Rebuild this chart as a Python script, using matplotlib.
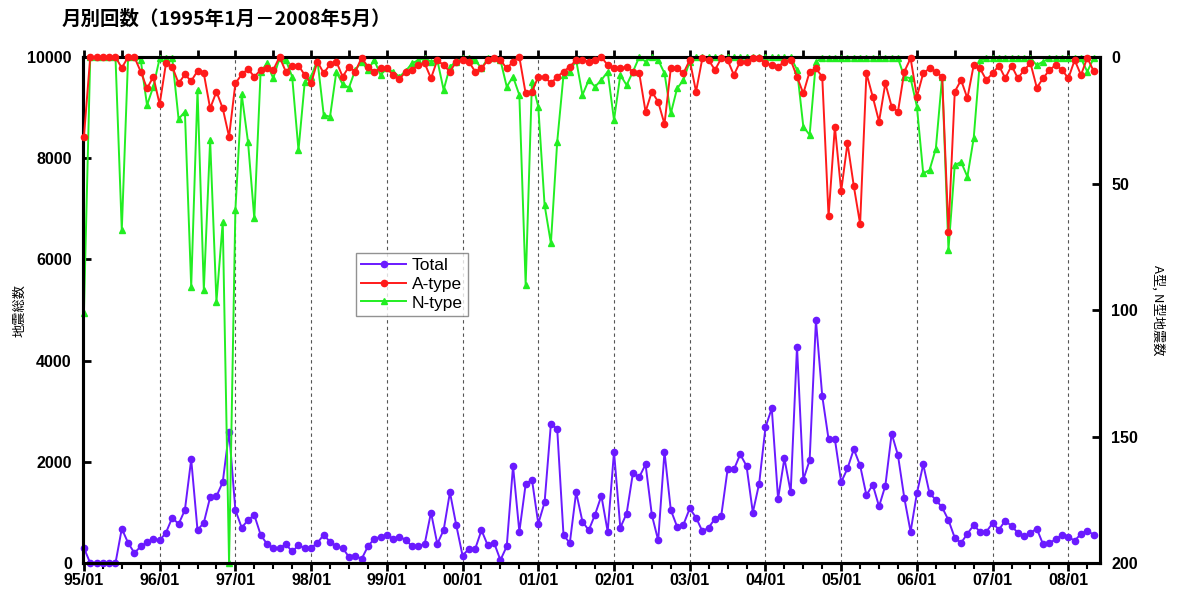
import numpy as np
import matplotlib
matplotlib.use('Agg')
import matplotlib.pyplot as plt
from matplotlib.ticker import MultipleLocator

plt.rcParams['font.family'] = ['Liberation Sans', 'Noto Sans CJK JP', 'DejaVu Sans']

# monthly counts, 1995/01 .. 2008/05 (161 months)
total = [300, 0, 0, 0, 0, 0, 680, 400, 200, 330, 410, 480,
         450, 600, 900, 770, 1050, 2050, 650, 800, 1300, 1320, 1600, 2600,
         1050, 700, 850, 950, 560, 380, 300, 300, 370, 230, 350, 300,
         300, 400, 560, 420, 330, 300, 120, 150, 80, 330, 480, 520,
         560, 480, 520, 460, 330, 340, 380, 1000, 380, 650, 1400, 750,
         150, 280, 280, 650, 350, 400, 60, 330, 1920, 620, 1560, 1650,
         780, 1200, 2750, 2650, 550, 400, 1400, 820, 650, 960, 1330, 620,
         2200, 700, 980, 1780, 1700, 1950, 950, 450, 2200, 1050, 720, 760,
         1080, 900, 630, 700, 880, 940, 1850, 1850, 2150, 1920, 1000, 1570,
         2680, 3060, 1270, 2070, 1400, 4280, 1650, 2030, 4800, 3300, 2450, 2450,
         1600, 1870, 2250, 1930, 1340, 1550, 1120, 1530, 2560, 2130, 1290, 620,
         1380, 1950, 1380, 1250, 1100, 850, 500, 400, 580, 750, 620, 620,
         790, 660, 840, 730, 600, 530, 600, 680, 370, 400, 470, 560,
         520, 440, 580, 640, 560]

a_type = [31.5, 0, 0, 0, 0, 0, 4.3, 0, 0, 5.8, 12.4, 7.8,
          18.7, 2.5, 3.8, 10.4, 6.9, 9.5, 5.5, 6.5, 20.3, 13.7, 20.3, 31.5,
          10.4, 6.9, 4.7, 7.8, 5.1, 4.5, 5.1, 0, 5.8, 3.4, 3.4, 7.1,
          10.4, 1.8, 6.4, 2.9, 1.8, 7.8, 3.8, 5.8, 0.3, 3.8, 5.8, 4.5,
          4.5, 7.1, 8.7, 5.8, 5.1, 3.2, 2.5, 8.4, 1.2, 3.2, 5.8, 1.8,
          1.2, 1.8, 5.8, 4.5, 1.2, 0.5, 1.2, 4.5, 1.8, 0, 14.4, 13.7,
          7.8, 7.8, 10.4, 7.8, 5.8, 3.8, 1.2, 1.2, 1.8, 1.2, 0, 3.2,
          4.5, 4.5, 3.8, 5.8, 6.4, 21.6, 13.7, 17.7, 26.5, 4.5, 4.5, 6.4,
          1.2, 13.7, 0.5, 1.2, 5.1, 0.5, 1.2, 7.1, 1.8, 1.8, 0.5, 0.5,
          2.5, 3.2, 3.8, 1.8, 1.2, 7.8, 14.4, 5.8, 4.5, 7.8, 63, 27.5,
          53, 34, 51, 66, 6.4, 15.7, 25.5, 10.4, 19.6, 21.6, 5.8, 0.5,
          15.7, 6.4, 4.5, 5.8, 7.8, 69, 13.7, 9.1, 16.3, 3.2, 4.5, 9.1,
          6.4, 3.4, 8.4, 3.4, 8.4, 5.1, 2.5, 12.1, 8.4, 5.1, 3.2, 5.1,
          8.4, 1.2, 7.1, 0.3, 5.5]

n_type = [101, 0, 0, 0, 0, 0, 68.4, 0, 0, 1.2, 19, 11.7,
          0.5, 0.5, 0.5, 24.5, 21.6, 90.8, 13, 92, 32.8, 96.7, 65.1, 200,
          60.5, 14.7, 33.5, 63.8, 5.8, 2.5, 8.4, 0.5, 1.2, 7.8, 36.8, 9.7,
          7.8, 1.2, 22.9, 23.6, 5.8, 10.8, 12.1, 5.1, 1.8, 5.1, 1.2, 7.1,
          4.5, 5.8, 7.8, 5.5, 2.5, 1.2, 0.5, 1.8, 1.2, 13, 3.8, 1.8,
          0.5, 0.5, 1.2, 4.5, 0.5, 0.5, 1.2, 11.7, 7.8, 15, 90, 9.7,
          19.6, 58.5, 73.6, 33.5, 7.1, 5.8, 1.2, 15, 9.1, 11.7, 9.1, 5.8,
          24.9, 7.1, 11.1, 5.8, 0, 1.8, 0, 1.2, 6.4, 22.3, 12.4, 9.1,
          1.8, 0, 0, 0, 0, 0, 0, 0, 0, 0, 0, 0,
          0, 0, 0, 0, 0, 5, 27.5, 30.8, 1.8, 0.5, 0.5, 0.5,
          0.5, 0.5, 0.5, 0.5, 0.5, 0.5, 0.5, 0.5, 0.5, 0.5, 7.8, 8.4,
          19.6, 46, 44.7, 36.2, 7.8, 76.2, 42.7, 41.5, 47.3, 32.1, 1.2, 0.5,
          0.5, 0.5, 0.5, 0.5, 0.5, 0.5, 0.5, 3.2, 1.8, 0.5, 0.5, 0.5,
          0.5, 0.5, 0.5, 5.8, 0.5]

year_labels = ['95/01', '96/01', '97/01', '98/01', '99/01', '00/01', '01/01',
               '02/01', '03/01', '04/01', '05/01', '06/01', '07/01', '08/01']

months = np.arange(len(total))
cjk = ['Noto Sans CJK JP', 'DejaVu Sans']

fig = plt.figure(figsize=(11.77, 5.94), dpi=100)
ax = fig.add_axes([0.0705, 0.052, 0.864, 0.852])
ax2 = ax.twinx()

for k in range(1, len(year_labels)):
    ax.axvline(12 * k, color='#555555', linestyle=(0, (3, 3)), linewidth=0.8, zorder=0)

l1, = ax.plot(months, total, color='#6A1AFF', marker='o', markersize=4.5,
              linewidth=1.4, label='Total', clip_on=False, zorder=3)
l2, = ax2.plot(months, a_type, color='#FF1A1A', marker='o', markersize=4.5,
               linewidth=1.4, label='A-type', clip_on=False, zorder=3)
l3, = ax2.plot(months, n_type, color='#22EE22', marker='^', markersize=5,
               linewidth=1.4, label='N-type', clip_on=False, zorder=2)

ax.set_xlim(-0.15, 161)
ax.set_ylim(0, 10000)
ax2.set_ylim(200, 0)

ax.set_xticks(np.arange(0, 12 * len(year_labels), 12))
ax.set_xticklabels(year_labels, fontweight='bold', fontsize=11.5)
ax.xaxis.set_minor_locator(MultipleLocator(3))
ax.set_yticks(np.arange(0, 10001, 2000))
ax.set_yticklabels([str(v) for v in range(0, 10001, 2000)], fontweight='bold', fontsize=11.5)
ax2.set_yticks([0, 50, 100, 150, 200])
ax2.set_yticklabels(['0', '50', '100', '150', '200'], fontweight='bold', fontsize=11.5)

ax.tick_params(axis='x', which='major', direction='out', length=6, width=2, pad=1)
ax.tick_params(axis='x', which='minor', direction='out', length=4, width=1.5)
ax.tick_params(axis='y', direction='in', length=6, width=2, pad=8)
ax2.tick_params(axis='y', direction='in', length=6, width=2, pad=8)

top = ax.secondary_xaxis('top')
top.set_xticks(np.arange(0, 161, 6))
top.tick_params(direction='out', length=5, width=2, labeltop=False)

for a in (ax, ax2):
    for s in a.spines.values():
        s.set_linewidth(2.2)

ax.set_ylabel('地震総数', family=cjk, fontsize=9.5, labelpad=1)
ax2.set_ylabel('A型, N型地震数', family=cjk, fontsize=9.5, rotation=270, labelpad=19)

fig.text(0.052, 0.967, '月別回数（1995年1月－2008年5月）', family=cjk,
         fontsize=14, fontweight='bold', va='center')

leg = ax2.legend(handles=[l1, l2, l3], loc='upper left', bbox_to_anchor=(0.26, 0.63),
                 fontsize=12.5, frameon=True, fancybox=False, edgecolor='#777777',
                 handlelength=2.6, handletextpad=0.3, borderpad=0.3, labelspacing=0.2)
leg.get_frame().set_linewidth(1)

fig.savefig('out.png', dpi=100)
